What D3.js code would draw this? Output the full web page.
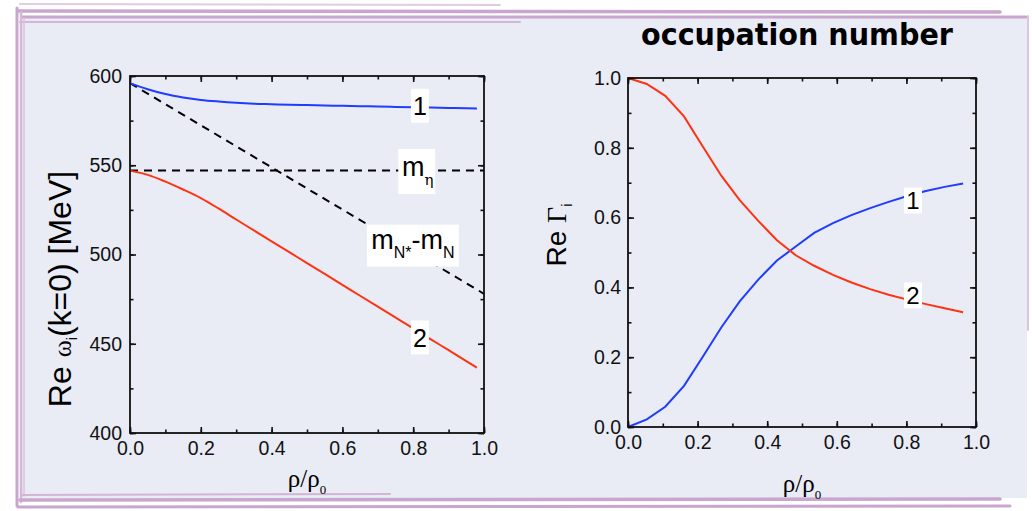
<!DOCTYPE html>
<html>
<head>
<meta charset="utf-8">
<script src="https://cdn.jsdelivr.net/npm/d3@7"></script>
<style>
	body { margin: 0; background: #fff; }
	svg { display: block; font-family: "Liberation Sans", Arial, sans-serif; }
</style>
</head>
<body>
<svg width="1032" height="511"></svg>
<script>
(function(){
	'use strict';

	// left panel: Re omega_i(k=0) [MeV] vs rho/rho0
	const densLeft = [0, 0.05, 0.1, 0.15, 0.2, 0.25, 0.3, 0.35, 0.4, 0.45, 0.5, 0.55, 0.6, 0.65, 0.7, 0.75, 0.8, 0.85, 0.9, 0.95, 0.98];
	const omega1 = [596, 592.6, 589.9, 588, 586.6, 585.7, 585, 584.5, 584.2, 583.9, 583.7, 583.5, 583.3, 583.1, 582.9, 582.7, 582.5, 582.3, 582.1, 581.9, 581.8];
	const omega2 = [547, 544.6, 540.8, 536.4, 531.6, 525.8, 519.6, 513.5, 507.4, 501.3, 495.2, 489.1, 483, 476.9, 470.8, 464.7, 458.6, 452.5, 446.4, 440.3, 436.6];
	const densRef = [0, 1];
	const massEta = [547, 547];
	const massDiff = [596, 478];
	const omegaTicks = [400, 450, 500, 550, 600];

	// right panel: Re Gamma_i vs rho/rho0
	const densRight = [0, 0.054, 0.107, 0.161, 0.214, 0.268, 0.321, 0.375, 0.428, 0.482, 0.535, 0.589, 0.642, 0.696, 0.749, 0.803, 0.856, 0.91, 0.963];
	const gamma1 = [0, 0.022, 0.058, 0.118, 0.2, 0.285, 0.36, 0.423, 0.477, 0.517, 0.556, 0.584, 0.607, 0.627, 0.645, 0.662, 0.676, 0.688, 0.698];
	const gamma2 = [1, 0.983, 0.949, 0.89, 0.805, 0.72, 0.65, 0.59, 0.535, 0.492, 0.462, 0.436, 0.414, 0.395, 0.379, 0.365, 0.352, 0.34, 0.329];
	const gammaTicks = [0, 0.2, 0.4, 0.6, 0.8, 1.0];

	const densTicks = [0, 0.2, 0.4, 0.6, 0.8, 1.0];
	const title = 'occupation number';

	const blue = '#1f3cff';
	const red = '#ff3212';

	const svg = d3.select('svg');

	// slide backdrop with sketchy purple border
	svg.append('rect')
		.attr('x', 20).attr('y', 18)
		.attr('width', 1007).attr('height', 480)
		.attr('fill', '#e9ebf5');

	const deco = [
		[[20, 4], [500, 5], 2, '#e0cde2'],
		[[18, 11], [1000, 12], 3.5, '#c9a6cd'],
		[[22, 17], [1026, 17], 3, '#c9a6cd'],
		[[20, 22], [520, 22], 2, '#d3b6d6'],
		[[17, 8], [17, 506], 3, '#c9a6cd'],
		[[21, 12], [21, 502], 2.5, '#d3b8d6'],
		[[24, 18], [24, 496], 1.5, '#dac4dd'],
		[[22, 495], [390, 494], 2, '#d3b6d6'],
		[[20, 500], [1000, 499], 3.5, '#c9a6cd'],
		[[18, 507], [1010, 506], 3, '#c9a6cd'],
		[[1028, 16], [1028, 330], 2, '#dbc6de']
	];
	svg.append('g')
		.selectAll('line')
		.data(deco)
		.join('line')
			.attr('x1', d => d[0][0]).attr('y1', d => d[0][1])
			.attr('x2', d => d[1][0]).attr('y2', d => d[1][1])
			.attr('stroke-width', d => d[2])
			.attr('stroke', d => d[3])
			.attr('stroke-linecap', 'round');

	const xL = d3.scaleLinear().domain([0, 1]).range([130, 484]);
	const yL = d3.scaleLinear().domain([400, 600]).range([433, 76]);
	const xR = d3.scaleLinear().domain([0, 1]).range([628, 976]);
	const yR = d3.scaleLinear().domain([0, 1]).range([427, 78]);

	function frame(g, x, y, yMajor, yMinorStep, yFmt, yPad) {
		const [x0, x1] = x.range();
		const [y0, y1] = y.range();
		const xMinor = d3.range(0, 1.0001, 0.1);
		const yMinor = d3.range(y.domain()[0], y.domain()[1] + 1e-6, yMinorStep);

		const axes = [
			[d3.axisBottom(x).tickValues(densTicks).tickFormat(d3.format('.1f')).tickPadding(8), `translate(0,${y0})`],
			[d3.axisBottom(x).tickValues(xMinor).tickFormat(''), `translate(0,${y0})`, true],
			[d3.axisTop(x).tickValues(densTicks).tickFormat(''), `translate(0,${y1})`],
			[d3.axisTop(x).tickValues(xMinor).tickFormat(''), `translate(0,${y1})`, true],
			[d3.axisLeft(y).tickValues(yMajor).tickFormat(yFmt).tickPadding(yPad), `translate(${x0},0)`],
			[d3.axisLeft(y).tickValues(yMinor).tickFormat(''), `translate(${x0},0)`, true],
			[d3.axisRight(y).tickValues(yMajor).tickFormat(''), `translate(${x1},0)`],
			[d3.axisRight(y).tickValues(yMinor).tickFormat(''), `translate(${x1},0)`, true]
		];
		axes.forEach(([ax, tr, minor]) => {
			const a = g.append('g')
				.attr('transform', tr)
				.call(ax.tickSize(minor ? -3.5 : -6).tickSizeOuter(0));
			a.select('.domain').remove();
			a.selectAll('line').attr('stroke', '#111').attr('stroke-width', 1.6);
			a.selectAll('text')
				.attr('font-family', '"Liberation Sans", Arial, sans-serif')
				.attr('font-size', 19.5)
				.attr('fill', '#111');
		});
		g.append('rect')
			.attr('x', x0).attr('y', y1)
			.attr('width', x1 - x0).attr('height', y0 - y1)
			.attr('fill', 'none')
			.attr('stroke', '#111')
			.attr('stroke-width', 1.8);
	}

	function curve(g, x, y, xs, ys, color, dash, smooth) {
		const line = d3.line()
			.x((d, i) => x(xs[i]))
			.y(d => y(d));
		if (smooth) line.curve(d3.curveMonotoneX);
		g.append('path')
			.attr('d', line(ys))
			.attr('fill', 'none')
			.attr('stroke', color)
			.attr('stroke-width', 2)
			.attr('stroke-dasharray', dash || null);
	}

	function note(g, x, y, n) {
		const cx = x(n.x);
		const cy = y(n.y);
		g.append('rect')
			.attr('x', cx - n.w / 2).attr('y', cy - n.h / 2)
			.attr('width', n.w).attr('height', n.h)
			.attr('fill', '#fff');
		const t = g.append('text')
			.attr('x', cx + (n.dx || 0))
			.attr('y', cy + n.base)
			.attr('text-anchor', 'middle')
			.attr('fill', '#000');
		n.parts.forEach(p => {
			t.append('tspan')
				.attr('font-size', p[1])
				.attr('dy', p[2])
				.attr('font-family', p[3] || null)
				.attr('fill', '#000')
				.text(p[0]);
		});
	}

	// ---- left panel
	const gL = svg.append('g');
	curve(gL, xL, yL, densRef, massEta, '#000', '8,6');
	curve(gL, xL, yL, densRef, massDiff, '#000', '8,6');
	curve(gL, xL, yL, densLeft, omega1, blue, null, true);
	curve(gL, xL, yL, densLeft, omega2, red, null, true);
	frame(gL, xL, yL, omegaTicks, 25, d3.format('d'), 8);

	const leftNotes = [
		{ x: 0.819, y: 583.3, w: 18, h: 34, base: 9, parts: [['1', 25, 0]] },
		{ x: 0.81, y: 546.5, w: 37, h: 45, base: 4.5, dx: 1, parts: [['m', 27, 0], ['η', 15, 9, '"DejaVu Serif", serif']] },
		{ x: 0.799, y: 505, w: 92, h: 42, base: 3, parts: [['m', 27, 0], ['N*', 16, 9], ['-m', 27, -9], ['N', 16, 9]] },
		{ x: 0.819, y: 453.5, w: 18, h: 34, base: 9, parts: [['2', 25, 0]] }
	];
	leftNotes.forEach(n => note(gL, xL, yL, n));

	// ---- right panel
	const gR = svg.append('g');
	curve(gR, xR, yR, densRight, gamma1, blue);
	curve(gR, xR, yR, densRight, gamma2, red);
	frame(gR, xR, yR, gammaTicks, 0.1, d3.format('.1f'), 7);

	const rightNotes = [
		{ x: 0.819, y: 0.649, w: 18, h: 26, base: 8.5, parts: [['1', 24, 0]] },
		{ x: 0.819, y: 0.377, w: 18, h: 26, base: 8.5, parts: [['2', 24, 0]] }
	];
	rightNotes.forEach(n => note(gR, xR, yR, n));

	// axis titles
	const yTitleL = svg.append('text')
		.attr('transform', 'translate(71,289) rotate(-90)')
		.attr('text-anchor', 'middle')
		.attr('font-size', 32)
		.attr('fill', '#000');
	yTitleL.append('tspan').text('Re ');
	yTitleL.append('tspan').attr('font-family', '"Liberation Serif", serif').attr('font-size', 26).text('ω');
	yTitleL.append('tspan').attr('font-size', 14).attr('dy', 6).text('i');
	yTitleL.append('tspan').attr('dy', -6).text('(k=0) [MeV]');

	const yTitleR = svg.append('text')
		.attr('transform', 'translate(566,235) rotate(-90)')
		.attr('text-anchor', 'middle')
		.attr('font-size', 28)
		.attr('fill', '#000');
	yTitleR.append('tspan').text('Re ');
	yTitleR.append('tspan').attr('font-family', '"Liberation Serif", serif').text('Γ');
	yTitleR.append('tspan').attr('font-size', 14).attr('dy', 6).text('i');

	[[xL, 487], [xR, 492]].forEach(([x, by]) => {
		const t = svg.append('text')
			.attr('x', (x.range()[0] + x.range()[1]) / 2)
			.attr('y', by)
			.attr('text-anchor', 'middle')
			.attr('font-family', '"Liberation Serif", serif')
			.attr('font-size', 25)
			.attr('fill', '#000');
		t.append('tspan').text('ρ/ρ');
		t.append('tspan').attr('font-size', 13).attr('dy', 7).text('0');
	});

	svg.append('text')
		.attr('x', 641)
		.attr('y', 45)
		.attr('textLength', 312)
		.attr('lengthAdjust', 'spacingAndGlyphs')
		.attr('font-family', '"Comic Sans MS", "DejaVu Sans", sans-serif')
		.attr('font-weight', 'bold')
		.attr('font-size', 30)
		.attr('fill', '#000')
		.text(title);
})();
</script>
</body>
</html>
